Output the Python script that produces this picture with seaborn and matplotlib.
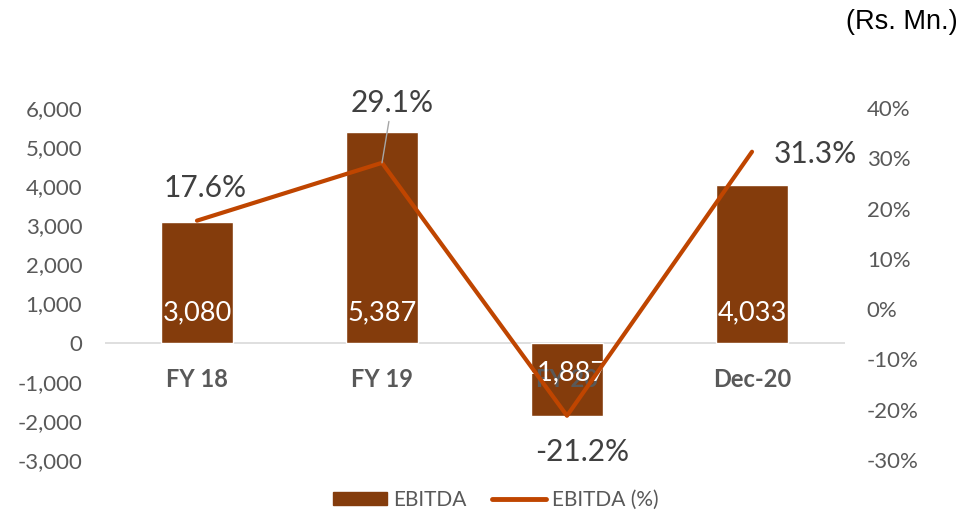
import matplotlib
matplotlib.use("Agg")
import matplotlib.pyplot as plt
from matplotlib.patches import Patch
from matplotlib.lines import Line2D
import seaborn as sns
import pandas as pd
import numpy as np

categories = ["FY 18", "FY 19", "FY 20", "Dec-20"]
ebitda = [3080, 5387, -1887, 4033]
ebitda_pct = [17.6, 29.1, -21.2, 31.3]
ebitda_labels = ["3,080", "5,387", "-1,887", "4,033"]
pct_labels = ["17.6%", "29.1%", "-21.2%", "31.3%"]
left_ticks = [-3000, -2000, -1000, 0, 1000, 2000, 3000, 4000, 5000, 6000]
right_ticks = [-30, -20, -10, 0, 10, 20, 30, 40]

sns.set_theme(style="white")
plt.rcParams["font.family"] = ["Lato", "DejaVu Sans"]

BAR = "#843C0C"
LINE = "#BF4500"
GRAY = "#595959"
TXT = "#404040"

df = pd.DataFrame({"cat": categories, "ebitda": ebitda, "pct": ebitda_pct,
                   "pos": np.arange(len(categories))})

fig = plt.figure(figsize=(9.76, 5.13), dpi=100)
ax = fig.add_axes([104.5 / 976, 1 - 460 / 513, 740 / 976, 352 / 513])
sns.barplot(data=df, x="cat", y="ebitda", color=BAR, width=0.39, ax=ax,
            saturation=1, zorder=2)
ax.set_ylim(-3000, 6000)
ax.set_yticks(left_ticks)
ax.set_yticklabels([f"{t:,}" for t in left_ticks], color=GRAY, fontsize=16)
ax.set_xlim(-0.5, len(categories) - 0.5)
ax.set_xticks([])
ax.set_xlabel("")
ax.set_ylabel("")
for s in ax.spines.values():
    s.set_visible(False)
ax.axhline(0, color="#D9D9D9", lw=1.2, zorder=1)
ax.tick_params(axis="y", length=0, pad=16)

# category labels next to axis
for i, c in enumerate(categories):
    ax.text(i, -950, c, ha="center", va="center", fontsize=17,
            fontweight="bold", color=GRAY, zorder=3)

# bar data labels
for i, (v, lab) in enumerate(zip(ebitda, ebitda_labels)):
    ax.text(i, 770 if v > 0 else -770, lab, ha="center", va="center",
            color="white", fontsize=19.5, zorder=4)

ax2 = ax.twinx()
sns.lineplot(data=df, x="pos", y="pct", color=LINE, lw=3.0, ax=ax2,
             zorder=5, solid_capstyle="round")
ax2.set_ylim(-30, 40)
ax2.set_yticks(right_ticks)
ax2.set_yticklabels([f"{t}%" for t in right_ticks], color=GRAY, fontsize=16)
ax2.set_xlim(-0.5, len(categories) - 0.5)
ax2.set_ylabel("")
ax2.set_xlabel("")
for s in ax2.spines.values():
    s.set_visible(False)
ax2.tick_params(axis="y", length=0, pad=16)

offsets = [(8, 33), (10, 60), (15, -36), (63, -2)]
for i, (v, lab, off) in enumerate(zip(ebitda_pct, pct_labels, offsets)):
    kw = {}
    if i == 1:
        kw["arrowprops"] = dict(arrowstyle="-", color="#A6A6A6", lw=1,
                                shrinkA=1, shrinkB=0)
    ax2.annotate(lab, xy=(i, v), xytext=off, textcoords="offset pixels",
                 ha="center", va="center", fontsize=21.5, color=TXT,
                 zorder=6, **kw)

handles = [Patch(facecolor=BAR, edgecolor=BAR, label="EBITDA"),
           Line2D([0], [0], color=LINE, lw=3.5, label="EBITDA (%)",
                  solid_capstyle="round")]
leg = fig.legend(handles=handles, loc="center", bbox_to_anchor=(0.508, 0.026),
                 ncol=2, frameon=False, fontsize=15, handlelength=2.6,
                 handleheight=0.55, columnspacing=1.2, handletextpad=0.3)
for t in leg.get_texts():
    t.set_color(GRAY)

fig.text(958 / 976, 1 - 22 / 513, "(Rs. Mn.)", ha="right", va="center",
         fontsize=19.5, color="black", family=["Liberation Sans", "DejaVu Sans"])

fig.savefig("out.png", dpi=100)
